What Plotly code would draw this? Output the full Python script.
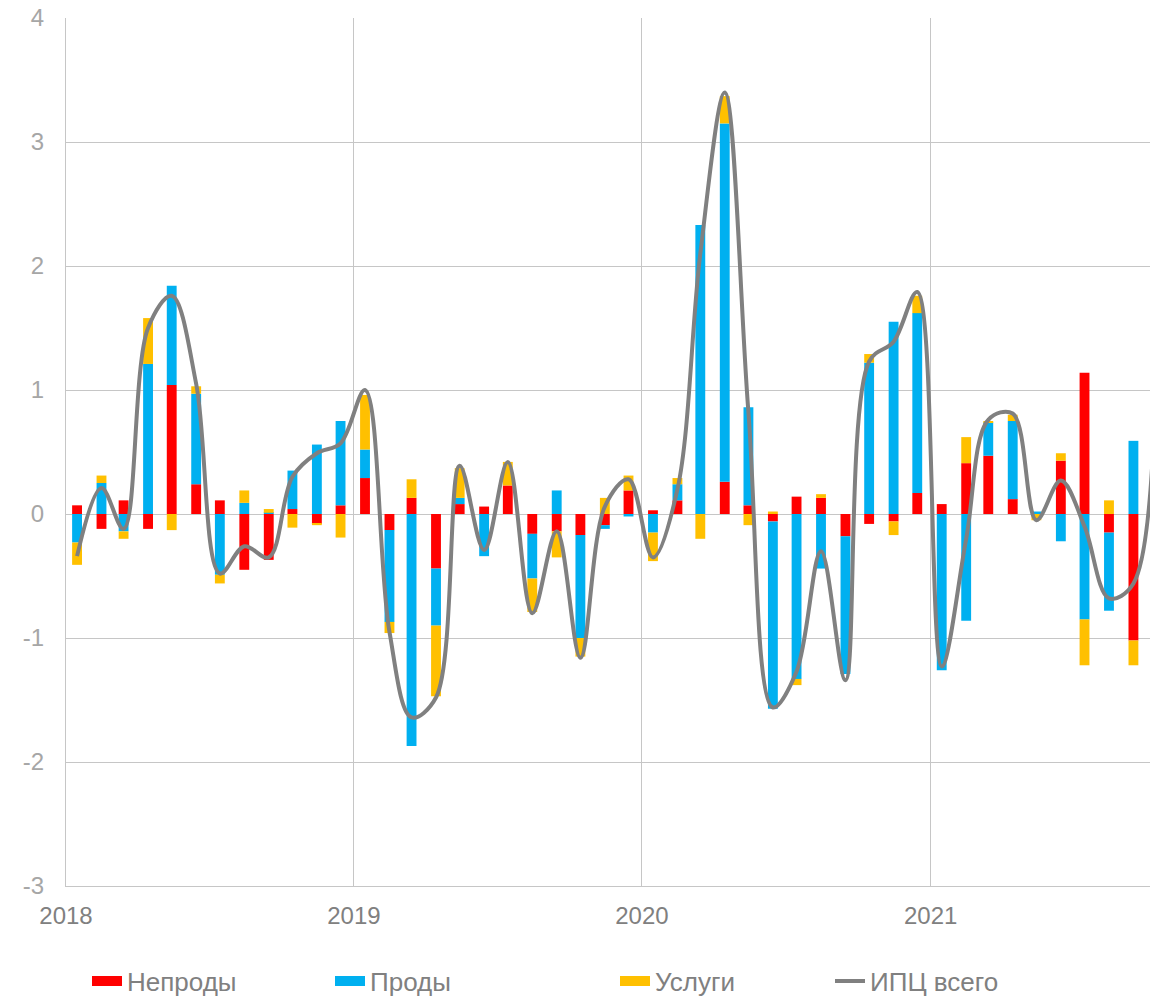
import pandas as pd
import plotly.graph_objects as go

# ---- data (monthly contributions, p.p.) ----
months_bars = [p.to_timestamp() + pd.Timedelta(days=14)
               for p in pd.period_range("2018-01", "2021-09", freq="M")]
months_line = [p.to_timestamp() + pd.Timedelta(days=14)
               for p in pd.period_range("2018-01", "2021-10", freq="M")]

neprody = [0.07, -0.12, 0.11, -0.12, 1.04, 0.24, 0.11, -0.45, -0.37, 0.04, -0.08, 0.07,
           0.29, -0.13, 0.13, -0.44, 0.08, 0.06, 0.23, -0.16, -0.14, -0.17, -0.09, 0.19,
           0.03, 0.11, 0.00, 0.26, 0.07, -0.06, 0.14, 0.13, -0.18, -0.08, -0.06, 0.17,
           0.08, 0.41, 0.47, 0.12, 0.00, 0.43, 1.14, -0.15, -1.02]
prody = [-0.23, 0.25, -0.14, 1.21, 0.80, 0.73, -0.49, 0.09, 0.01, 0.31, 0.56, 0.68,
         0.23, -0.74, -1.87, -0.46, 0.05, -0.34, 0.00, -0.36, 0.19, -0.83, -0.03, -0.02,
         -0.15, 0.13, 2.33, 2.89, 0.79, -1.51, -1.33, -0.44, -1.11, 1.22, 1.55, 1.45,
         -1.26, -0.86, 0.27, 0.63, 0.02, -0.22, -0.85, -0.63, 0.59]
uslugi = [-0.18, 0.06, -0.06, 0.37, -0.13, 0.06, -0.07, 0.10, 0.03, -0.11, -0.01, -0.19,
          0.44, -0.09, 0.15, -0.57, 0.24, 0.00, 0.19, -0.27, -0.21, -0.15, 0.13, 0.12,
          -0.23, 0.05, -0.20, 0.22, -0.09, 0.02, -0.05, 0.03, 0.00, 0.07, -0.11, 0.14,
          0.00, 0.21, 0.01, 0.05, -0.05, 0.06, -0.37, 0.11, -0.20]
cpi_total = [-0.34, 0.21, -0.12, 1.50, 1.76, 1.05, -0.48, -0.26, -0.35, 0.30, 0.49, 0.57,
             1.00, -0.95, -1.64, -1.48, 0.39, -0.29, 0.42, -0.80, -0.14, -1.16, 0.06, 0.28,
             -0.35, 0.20, 2.10, 3.40, 0.82, -1.56, -1.27, -0.30, -1.34, 1.23, 1.39, 1.79,
             -1.23, -0.20, 0.76, 0.81, -0.05, 0.27, -0.10, -0.68, -0.56, 1.80]

y_ticks = [-3, -2, -1, 0, 1, 2, 3, 4]
y_ticklabels = ["-3", "-2", "-1", "0", "1", "2", "3", "4"]

names = ["Непроды", "Проды", "Услуги", "ИПЦ всего"]
colors = ["#FF0000", "#00B0F0", "#FFC000", "#808080"]

FONT = "Liberation Sans, Arial, sans-serif"
bar_w = 12.5 * 86400000

fig = go.Figure()
for vals, name, col in zip([neprody, prody, uslugi], names[:3], colors[:3]):
    fig.add_trace(go.Bar(x=months_bars, y=vals, name=name, marker_color=col,
                         marker_line_width=0, width=bar_w, showlegend=False))

fig.add_trace(go.Scatter(x=months_line, y=cpi_total, name=names[3], mode="lines",
                         line=dict(color=colors[3], width=4, shape="spline", smoothing=1.0),
                         legend="legend4"))

# legend entries for bars (wide rectangular swatches)
legend_keys = ["legend", "legend2", "legend3"]
for name, col, lk in zip(names[:3], colors[:3], legend_keys):
    fig.add_trace(go.Scatter(x=[None], y=[None], mode="lines", name=name,
                             line=dict(color=col, width=15), legend=lk))

legend_x = [87, 330, 615, 830]
leg_common = dict(orientation="h", xref="container", yref="container",
                  xanchor="left", yanchor="middle", y=18 / 999,
                  font=dict(family=FONT, size=26, color="#808080"),
                  bgcolor="rgba(0,0,0,0)")
fig.update_layout(
    legend=dict(x=legend_x[0] / 1150, **leg_common),
    legend2=dict(x=legend_x[1] / 1150, **leg_common),
    legend3=dict(x=legend_x[2] / 1150, **leg_common),
    legend4=dict(x=legend_x[3] / 1150, **leg_common),
)

grid = "#c6c6c6"
fig.update_layout(
    width=1150, height=999,
    margin=dict(l=66, r=0, t=18, b=113, autoexpand=False),
    plot_bgcolor="white", paper_bgcolor="white",
    barmode="relative",
    font=dict(family=FONT),
    xaxis=dict(type="date", range=["2018-01-01", "2021-10-06"],
               tick0="2018-01-01", dtick="M12", tickformat="%Y",
               showgrid=True, gridcolor=grid, gridwidth=1.3,
               showline=True, linecolor=grid, linewidth=1.3,
               ticks="", ticklabelstandoff=8, automargin=False,
               tickfont=dict(family=FONT, size=24, color="#808080")),
    yaxis=dict(range=[-3, 4], tickmode="array", tickvals=y_ticks, ticktext=y_ticklabels,
               showgrid=True, gridcolor=grid, gridwidth=1.3,
               zeroline=True, zerolinecolor=grid, zerolinewidth=1.3,
               showline=True, linecolor=grid, linewidth=1.3,
               ticks="", ticklabelstandoff=16, automargin=False,
               tickfont=dict(family=FONT, size=24, color="#a6a6a6")),
)

fig.write_html("out.html",
               config={"displayModeBar": False},
               post_script="document.body.style.margin='0';"
                           "document.body.style.overflow='hidden';")
